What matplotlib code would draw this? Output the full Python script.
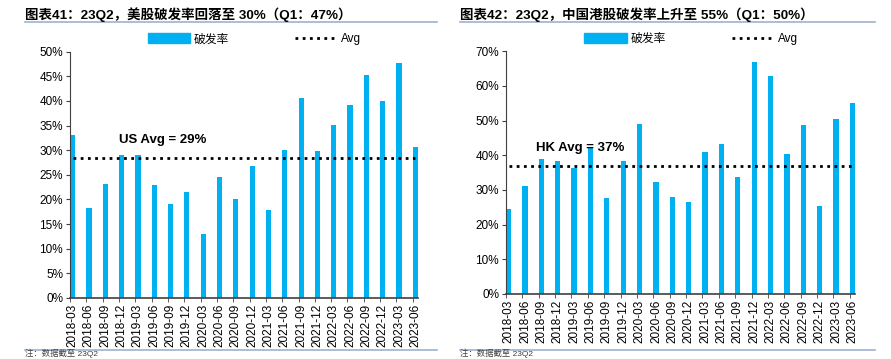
import matplotlib.pyplot as plt
from matplotlib.lines import Line2D
from matplotlib.patches import Patch
from matplotlib.ticker import PercentFormatter
import numpy as np

plt.rcParams['font.family'] = ['Liberation Sans', 'Noto Sans CJK SC']

quarters = ['2018-03', '2018-06', '2018-09', '2018-12', '2019-03', '2019-06',
            '2019-09', '2019-12', '2020-03', '2020-06', '2020-09', '2020-12',
            '2021-03', '2021-06', '2021-09', '2021-12', '2022-03', '2022-06',
            '2022-09', '2022-12', '2023-03', '2023-06']

us_rate = [33.0, 18.2, 23.1, 29.1, 29.0, 22.9, 19.1, 21.6, 13.0, 24.5, 20.0,
           26.7, 17.9, 30.0, 40.5, 29.9, 35.2, 39.1, 45.3, 39.9, 47.7, 30.7]
hk_rate = [24.6, 31.1, 39.0, 38.5, 36.4, 42.5, 27.7, 38.3, 49.1, 32.2, 27.9,
           26.4, 41.1, 43.3, 33.8, 67.0, 63.0, 40.5, 48.7, 25.5, 50.4, 55.0]
us_avg = 28.5
hk_avg = 36.9

titles = ['图表41：23Q2，美股破发率回落至 30%（Q1：47%）',
          '图表42：23Q2，中国港股破发率上升至 55%（Q1：50%）']
avg_labels = ['US Avg = 29%', 'HK Avg = 37%']
note = '注：数据截至 23Q2'

bar_color = '#00B0F0'
W, H = 891, 359
fig = plt.figure(figsize=(W / 100, H / 100), dpi=100)


def draw(rect, values, avg, ymax, ystep, label, label_xy, legend_x):
    ax = fig.add_axes(rect)
    x = np.arange(len(quarters))
    ax.bar(x, values, width=0.32, color=bar_color, zorder=2)
    ax.hlines(avg, x[0], x[-1], colors='black', linestyles=(0, (1, 1.6)),
              linewidth=2, zorder=3)
    ax.text(label_xy[0], label_xy[1], label, fontsize=9.5, fontweight='bold',
            ha='center', va='center')
    ax.set_xlim(-0.16, len(quarters) - 1 + 0.16)
    ax.set_ylim(0, ymax)
    ax.set_yticks(np.arange(0, ymax + 0.1, ystep))
    ax.yaxis.set_major_formatter(PercentFormatter(decimals=0))
    ax.set_xticks(x)
    ax.set_xticklabels(quarters, rotation=90, fontsize=8.5)
    ax.set_xticks(x - 0.16, minor=True)
    ax.tick_params(axis='x', which='major', length=0, pad=4)
    ax.tick_params(axis='x', which='minor', length=3, color='#404040')
    ax.tick_params(axis='y', labelsize=8.5, length=3, color='#404040', pad=2)
    for s in ['top', 'right']:
        ax.spines[s].set_visible(False)
    ax.spines['left'].set_color('#404040')
    ax.spines['left'].set_linewidth(0.8)
    ax.spines['bottom'].set_color('#404040')
    ax.spines['bottom'].set_linewidth(1.2)
    handles = [Patch(color=bar_color, label='破发率'),
               Line2D([], [], color='black', linestyle=(0, (1, 1.6)),
                      linewidth=2, label='Avg')]
    ax.legend(handles=handles, loc='center', ncol=2, frameon=False,
              bbox_to_anchor=(legend_x, 1.05), fontsize=8.5, handlelength=3.6,
              handleheight=0.9, columnspacing=5.6, handletextpad=0.3)
    return ax


draw([70 / W, 1 - 298 / H, 348 / W, (298 - 51.6) / H], us_rate, us_avg, 50, 5,
     avg_labels[0], (5.5, 32.0), 0.53)
draw([506 / W, 1 - 294 / H, 349 / W, (294 - 51.3) / H], hk_rate, hk_avg, 70, 10,
     avg_labels[1], (4.4, 42.0), 0.53)

for x0, x1, t in [(25, 437, titles[0]), (460, 875, titles[1])]:
    fig.text(x0 / W, 1 - 15 / H, t, fontsize=9.7, fontweight='bold',
             ha='left', va='center')
    fig.add_artist(Line2D([x0 / W, x1 / W], [1 - 22 / H, 1 - 22 / H],
                          color='#9DB3CC', linewidth=1.2))
    fig.add_artist(Line2D([x0 / W, x1 / W], [1 - 350 / H, 1 - 350 / H],
                          color='#9DB3CC', linewidth=1.2))
    fig.text(x0 / W, 1 - 358.5 / H, note, fontsize=6, color='#404040',
             ha='left', va='bottom')

fig.savefig('out.png', dpi=100)
